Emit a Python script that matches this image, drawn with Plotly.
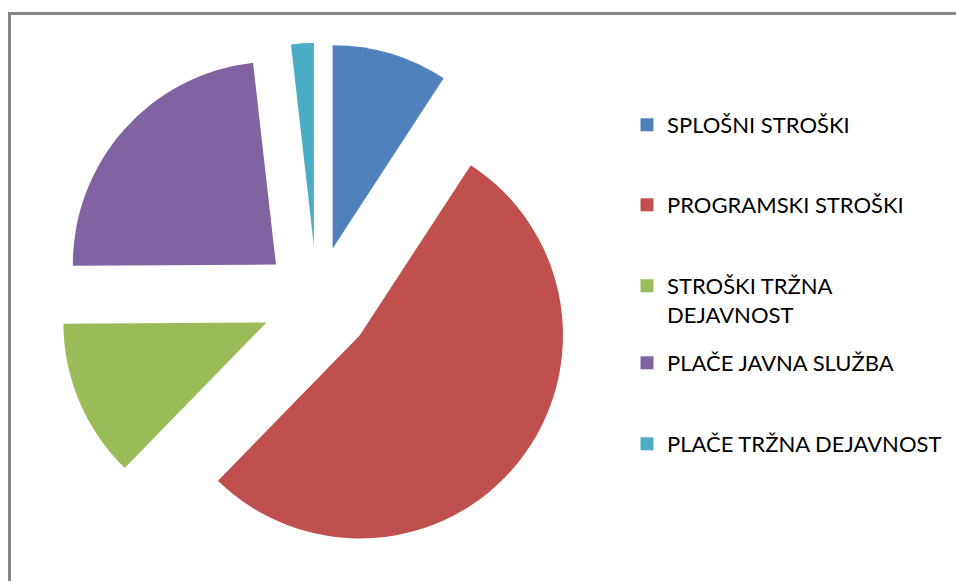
import plotly.graph_objects as go

categories = ["SPLOŠNI STROŠKI", "PROGRAMSKI STROŠKI", "STROŠKI TRŽNA DEJAVNOST",
              "PLAČE JAVNA SLUŽBA", "PLAČE TRŽNA DEJAVNOST"]
legend_labels = ["SPLOŠNI STROŠKI", "PROGRAMSKI STROŠKI", "STROŠKI TRŽNA<br>DEJAVNOST",
                 "PLAČE JAVNA SLUŽBA", "PLAČE TRŽNA DEJAVNOST"]
values = [9.2, 53.1, 12.6, 23.3, 1.8]
colors = ["#4F81BD", "#C0504D", "#9BBB59", "#8064A2", "#4BACC6"]

W, H = 956, 581
FONT = "Lato"

fig = go.Figure()
fig.add_trace(go.Pie(
    labels=categories, values=values, sort=False, direction="clockwise", rotation=0,
    marker=dict(colors=colors, line=dict(width=0)),
    pull=[0.27] * len(values), textinfo="none", hoverinfo="label+percent",
    showlegend=False,
    domain=dict(x=[59 / W, 575 / W], y=[1 - 559 / H, 1 - 43 / H]),
))

# legend entries, one legend per entry for Excel-like spacing
legend_centers = [125, 205, 300.5, 363, 444]
legend_names = ["legend", "legend2", "legend3", "legend4", "legend5"]
layout_legends = {}
for lab, col, cy, ln in zip(legend_labels, colors, legend_centers, legend_names):
    fig.add_trace(go.Scatter(
        x=[None], y=[None], mode="markers", name=lab,
        marker=dict(symbol="square", size=13, color=col),
        showlegend=True, legend=ln, hoverinfo="skip",
    ))
    layout_legends[ln] = dict(
        x=627 / W, y=1 - cy / H, xanchor="left", yanchor="middle",
        bgcolor="rgba(0,0,0,0)", borderwidth=0, valign="top",
        font=dict(family=FONT, size=22, color="#000000"),
        itemsizing="trace",
    )

# chart-area frame: only its left and top edges fall inside the window
fx = 9.5 / W
fy = 1 - 13.5 / H
frame_path = f"M {fx},-0.2 L {fx},{fy} L 1.2,{fy}"

fig.update_layout(
    width=W, height=H,
    margin=dict(l=0, r=0, t=0, b=0),
    paper_bgcolor="white", plot_bgcolor="white",
    xaxis=dict(visible=False), yaxis=dict(visible=False),
    font=dict(family=FONT),
    shapes=[dict(type="path", xref="paper", yref="paper", path=frame_path,
                 line=dict(color="#868686", width=3), layer="above")],
    **layout_legends,
)

page_css = ("::-webkit-scrollbar{display:none;width:0;height:0}"
            "html,body{margin:0;padding:0;overflow:hidden;scrollbar-width:none}")
fig.write_html(
    "out.html",
    config={"displayModeBar": False},
    post_script=("var s=document.createElement('style');s.textContent='" + page_css +
                 "';document.head.appendChild(s);"
                 "document.documentElement.style.overflow='hidden';"
                 "document.body.style.margin='0';document.body.style.overflow='hidden';"),
)
